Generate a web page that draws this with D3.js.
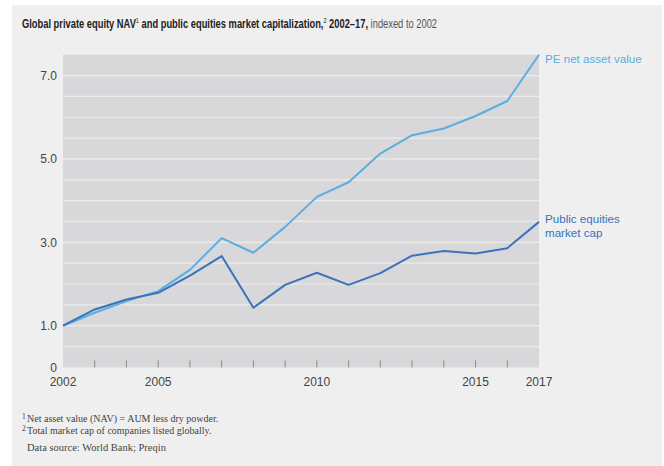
<!DOCTYPE html>
<html><head><meta charset="utf-8">
<script src="https://cdn.jsdelivr.net/npm/d3@7"></script>
<style>
body{margin:0;background:#fff;}
svg{display:block;}
</style></head>
<body>
<svg id="chart" width="664" height="466"></svg>
<script>
const years = [2002,2003,2004,2005,2006,2007,2008,2009,2010,2011,2012,2013,2014,2015,2016,2017];
const peNAV = [1.0,1.31,1.59,1.83,2.34,3.10,2.75,3.37,4.09,4.44,5.13,5.57,5.73,6.03,6.39,7.5];
const publicCap = [1.0,1.39,1.63,1.79,2.20,2.67,1.43,1.98,2.27,1.98,2.26,2.68,2.79,2.73,2.86,3.49];
const yTickValues = [0,1,3,5,7];
const yTickLabels = ["0","1.0","3.0","5.0","7.0"];
const xLabelYears = [2002,2005,2010,2015,2017];
const gridValues = [0.5,1,1.5,2,2.5,3,3.5,4,4.5,5,5.5,6,6.5,7];

const sans = "Liberation Sans, Arial, sans-serif";
const svg = d3.select("#chart");
svg.append("rect").attr("x",12).attr("y",5).attr("width",650).attr("height",461).attr("fill","#efefef");

const m = {left:63, right:539, top:54.7, bottom:367.4};
const x = d3.scaleLinear().domain([2002,2017]).range([m.left,m.right]);
const y = d3.scaleLinear().domain([0,7.5]).range([m.bottom,m.top]);

svg.append("rect").attr("x",m.left).attr("y",m.top).attr("width",m.right-m.left).attr("height",m.bottom-m.top).attr("fill","#d8d8da");

svg.append("g").selectAll("line").data(gridValues).join("line")
  .attr("x1",m.left).attr("x2",m.right)
  .attr("y1",d=>y(d)).attr("y2",d=>y(d))
  .attr("stroke","#ececec").attr("stroke-width",1.2);

// x ticks inside
svg.append("g").selectAll("line").data(years.slice(1,-1)).join("line")
  .attr("x1",d=>x(d)).attr("x2",d=>x(d))
  .attr("y1",m.bottom).attr("y2",m.bottom-7)
  .attr("stroke","#8a8a8a").attr("stroke-width",1);

// y labels
svg.append("g").selectAll("text").data(yTickValues).join("text")
  .attr("x",57).attr("y",d=>y(d)+4.5)
  .attr("text-anchor","end")
  .attr("font-family",sans).attr("font-size",12)
  .attr("fill","#444")
  .text((d,i)=>yTickLabels[i]);

// x labels
svg.append("g").selectAll("text").data(xLabelYears).join("text")
  .attr("x",d=>x(d)).attr("y",386)
  .attr("text-anchor","middle")
  .attr("font-family",sans).attr("font-size",12)
  .attr("fill","#444")
  .text(d=>d);

const line = d3.line().x((d,i)=>x(years[i])).y(d=>y(d));
svg.append("path").datum(peNAV).attr("d",line).attr("fill","none").attr("stroke","#5aaee2").attr("stroke-width",2).attr("stroke-linejoin","round");
svg.append("path").datum(publicCap).attr("d",line).attr("fill","none").attr("stroke","#3a72bb").attr("stroke-width",2).attr("stroke-linejoin","round");

// series labels
svg.append("text").attr("x",545).attr("y",63).attr("font-family",sans).attr("font-size",11.6).attr("fill","#5aaee2").text("PE net asset value");
const pl = svg.append("text").attr("font-family",sans).attr("font-size",11.6).attr("fill","#3a72bb");
pl.append("tspan").attr("x",545).attr("y",223).text("Public equities");
pl.append("tspan").attr("x",545).attr("y",237).text("market cap");

// title (condensed via horizontal scale)
const t = svg.append("text").attr("transform","translate(22,27.5) scale(0.73,1)").attr("x",0).attr("y",0)
  .attr("font-family",sans).attr("font-size",12.8).attr("fill","#222");
t.append("tspan").attr("font-weight","bold").text("Global private equity NAV");
t.append("tspan").attr("font-size",7.5).attr("dy",-5).text("1");
t.append("tspan").attr("font-weight","bold").attr("dy",5).text(" and public equities market capitalization,");
t.append("tspan").attr("font-size",7.5).attr("dy",-5).text("2");
t.append("tspan").attr("font-weight","bold").attr("dy",5).text(" 2002–17,");
t.append("tspan").attr("fill","#555").text(" indexed to 2002");

// footnotes
const fn = svg.append("g").attr("font-family","Liberation Serif, Times New Roman, serif").attr("fill","#444");
const f1 = fn.append("text").attr("y",422).attr("font-size",10);
f1.append("tspan").attr("x",22).attr("font-size",7.5).attr("dy",-3).text("1");
f1.append("tspan").attr("x",27).attr("dy",3).text("Net asset value (NAV) = AUM less dry powder.");
const f2 = fn.append("text").attr("y",434).attr("font-size",10);
f2.append("tspan").attr("x",22).attr("font-size",7.5).attr("dy",-3).text("2");
f2.append("tspan").attr("x",27).attr("dy",3).text("Total market cap of companies listed globally.");
fn.append("text").attr("x",27).attr("y",451).attr("font-size",10.5).text("Data source: World Bank; Preqin");
</script>
</body></html>
